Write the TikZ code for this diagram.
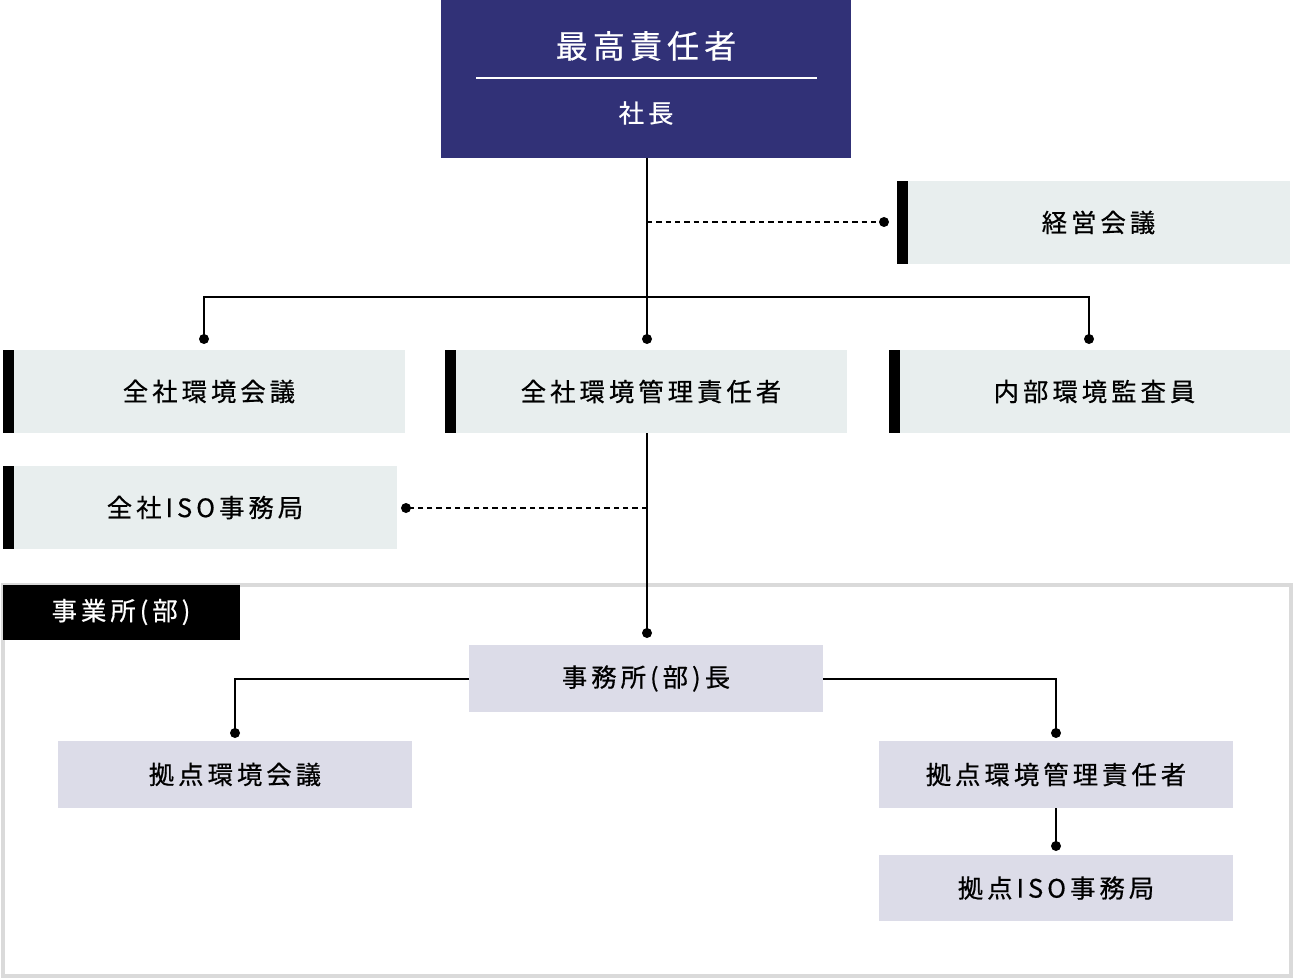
\documentclass[tikz,border=0pt]{standalone}
\usepackage{fontspec}
\setmainfont{Noto Sans CJK JP}[LetterSpace=16,FakeBold=0.6]
\definecolor{navy}{HTML}{313177}
\definecolor{pale}{HTML}{E8EEEE}
\definecolor{lav}{HTML}{DCDCE8}
\definecolor{frame}{HTML}{DADADA}
\tikzset{
 x=0.75pt,y=-0.75pt,
 lbl/.style={font=\fontsize{19}{21}\selectfont,text=black},
 dot/.style={circle,fill=black,inner sep=0pt,minimum size=7.5pt},
 ln/.style={line width=1.2pt},
 dl/.style={line width=1.2pt,dash pattern=on 4pt off 3pt},
}
\newcommand{\bbox}[6]{% name x1 y1 x2 y2 text
 \fill[pale] (#2+11,#3) rectangle (#4,#5);
 \fill[black] (#2,#3) rectangle (#2+11,#5);
 \node[lbl] (#1) at ({(#2+#4)/2+5},{(#3+#5)/2}) {#6};}
\newcommand{\lbox}[6]{%
 \fill[lav] (#2,#3) rectangle (#4,#5);
 \node[lbl] (#1) at ({(#2+#4)/2},{(#3+#5)/2}) {#6};}
\begin{document}
\begin{tikzpicture}
\useasboundingbox (0,0) rectangle (1294,980);
% frame
\draw[frame,line width=3pt] (3,585) rectangle (1291,976);
\fill[black] (3,585) rectangle (240,640);
\node[font=\fontsize{19}{21}\selectfont,text=white] (jig) at (121,612) {事業所(部)};
% top
\fill[navy] (441,0) rectangle (851,158);
\node[font=\fontsize{24}{27}\selectfont,text=white] (top) at (646,46) {最高責任者};
\draw[white,line width=2.2pt] (476,78) -- (817,78);
\node[font=\fontsize{19}{21}\selectfont,text=white] (pres) at (646,113) {社長};
\coordinate (topb) at (647,158);
% boxes
\bbox{keiei}{897}{181}{1290}{264}{経営会議}
\bbox{zkk}{3}{350}{405}{433}{全社環境会議}
\bbox{zkm}{445}{350}{847}{433}{全社環境管理責任者}
\bbox{nbk}{889}{350}{1290}{433}{内部環境監査員}
\bbox{iso}{3}{466}{397}{549}{全社ISO事務局}
\lbox{jmc}{469}{645}{823}{712}{事務所(部)長}
\lbox{kkk}{58}{741}{412}{808}{拠点環境会議}
\lbox{kkm}{879}{741}{1233}{808}{拠点環境管理責任者}
\lbox{kiso}{879}{855}{1233}{921}{拠点ISO事務局}
% connectors
\coordinate (d1) at (647,339);
\coordinate (dl) at (204,339);
\coordinate (dr) at (1089,339);
\draw[ln] (topb) -- (d1);
\draw[ln] (dl) -- (204,297) -- (1089,297) -- (dr);
\node[dot] at (d1) {}; \node[dot] at (dl) {}; \node[dot] at (dr) {};
\coordinate (k1) at (647,222); \coordinate (k2) at (884,222);
\draw[dl] (k1) -- (k2); \node[dot] at (k2) {};
\coordinate (m1) at (647,433); \coordinate (m2) at (647,633);
\draw[ln] (m1) -- (m2); \node[dot] at (m2) {};
\coordinate (i1) at (647,508); \coordinate (i2) at (406,508);
\draw[dl] (i1) -- (i2); \node[dot] at (i2) {};
\coordinate (a1) at (235,733); \coordinate (a2) at (1056,733);
\coordinate (jl) at (469,679); \coordinate (jr) at (823,679);
\draw[ln] (jl) -- (235,679) -- (a1);
\draw[ln] (jr) -- (1056,679) -- (a2);
\node[dot] at (a1) {}; \node[dot] at (a2) {};
\coordinate (b1) at (1056,808); \coordinate (b2) at (1056,846);
\draw[ln] (b1) -- (b2); \node[dot] at (b2) {};
\end{tikzpicture}
\end{document}
